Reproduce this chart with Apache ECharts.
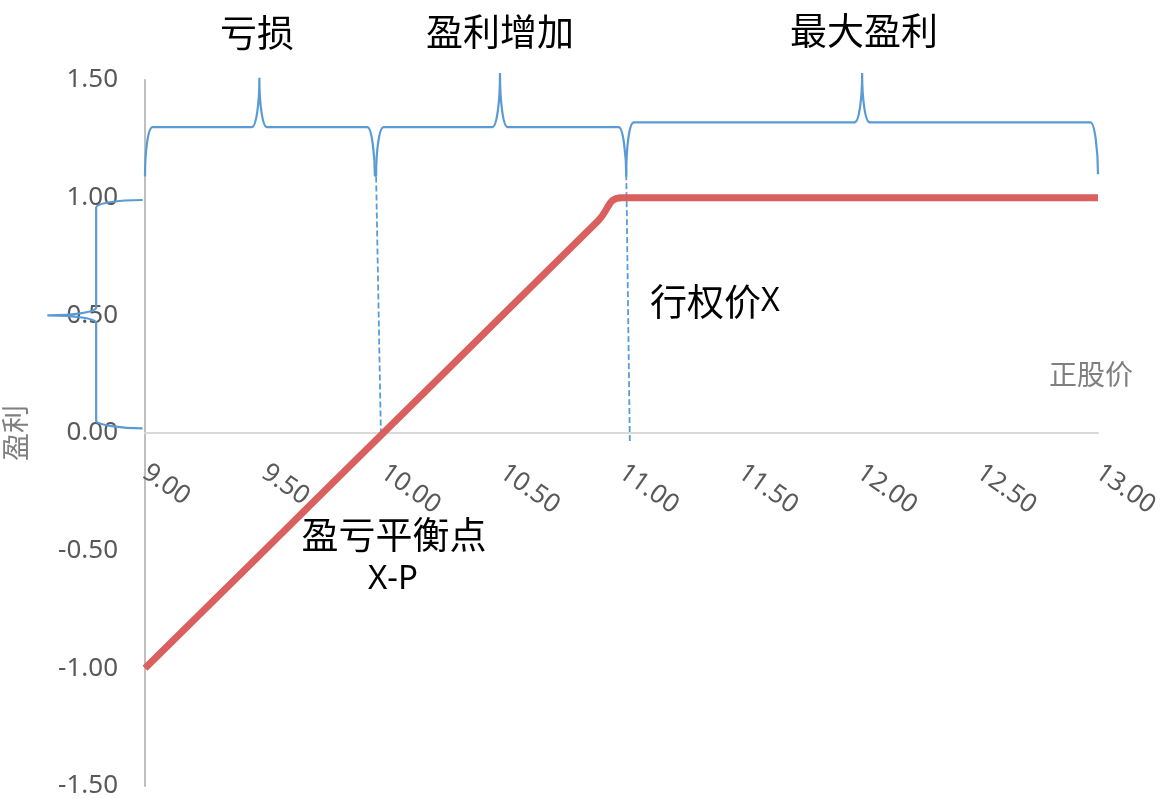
<!DOCTYPE html>
<html>
<head>
<meta charset="utf-8">
<script src="https://cdn.jsdelivr.net/npm/echarts@6/dist/echarts.min.js"></script>
<style>
  html, body { margin: 0; padding: 0; background: #fff; }
  #chart { width: 1162px; height: 799px; }
</style>
</head>
<body>
<div id="chart"></div>
<script>
// Profit against underlying price: rises 1:1 until the strike, flat afterwards
const stockPrice = [9, 9.5, 10, 10.5, 10.9, 11, 11.1, 11.5, 12, 12.5, 13];
const profit     = [-1, -0.5, 0, 0.5, 0.9, 1, 1, 1, 1, 1, 1];

// Axis ranges and tick steps
const xRange = [9, 13];
const xStep = 0.5;
const yRange = [-1.5, 1.5];
const yStep = 0.5;

// Price zones marked by braces above the curve
const zoneNames = ['亏损', '盈利增加', '最大盈利'];
const zoneFrom  = [9.0, 9.97, 11.02];
const zoneTo    = [9.965, 11.02, 13.0];
const zoneMid   = [9.48, 10.49, 12.01];
const zoneFoot  = [1.09, 1.09, 1.10];
const zoneBar   = [1.30, 1.30, 1.32];
const zonePeak  = [1.51, 1.53, 1.53];

// Brace along the profit axis covering 0 .. 1 (from, to, mid, foot, bar, peak)
const profitBrace = [0.02, 0.99, 0.5, 8.99, 8.795, 8.59];

// Dashed guides at the break-even point and the strike
const breakEvenGuide = [[9.97, 1.09], [9.99, 0]];
const strikeGuide    = [[11.02, 1.10], [11.035, -0.04]];

const BLUE = '#5b9bd5';
const RED = '#d9605e';
const TICK_GRAY = '#595959';
const NAME_GRAY = '#7f7f7f';
const CJK = "'Noto Sans CJK SC', sans-serif";
const LATIN = "'Noto Sans', 'Noto Sans CJK SC', sans-serif";

// Plot box (pixels) so the price axis can sit on the zero line
const GRID = { left: 145, right: 64, top: 80, bottom: 13 };
const plotHeight = 799 - GRID.top - GRID.bottom;
const zeroOffset = plotHeight * (0 - yRange[0]) / (yRange[1] - yRange[0]);

const braceItems = zoneFrom.map((f, i) =>
  [f, zoneTo[i], zoneMid[i], zoneFoot[i], zoneBar[i], zonePeak[i], 0]);
braceItems.push(profitBrace.concat([1]));

function renderBrace(params, api) {
  const from = api.value(0), to = api.value(1), mid = api.value(2);
  const foot = api.value(3), bar = api.value(4), peak = api.value(5);
  const vertical = api.value(6) === 1;
  let ua, ub, ut, vF, vB, vP, map;
  if (!vertical) {
    ua = api.coord([from, foot])[0];
    ub = api.coord([to, foot])[0];
    ut = api.coord([mid, bar])[0];
    vF = api.coord([mid, foot])[1];
    vB = api.coord([mid, bar])[1];
    vP = api.coord([mid, peak])[1];
    map = (u, v) => u.toFixed(2) + ' ' + v.toFixed(2);
  } else {
    ua = api.coord([foot, to])[1];
    ub = api.coord([foot, from])[1];
    ut = api.coord([foot, mid])[1];
    vF = api.coord([foot, mid])[0];
    vB = api.coord([bar, mid])[0];
    vP = api.coord([peak, mid])[0];
    map = (u, v) => v.toFixed(2) + ' ' + u.toFixed(2);
  }
  const r = 7.5, k = 0.5523;
  const d = [
    'M', map(ua, vF),
    'C', map(ua, vF + (vB - vF) * k), map(ua + r * (1 - k), vB), map(ua + r, vB),
    'L', map(ut - r, vB),
    'C', map(ut - r + r * k, vB), map(ut, vP + (vB - vP) * k), map(ut, vP),
    'C', map(ut, vP + (vB - vP) * k), map(ut + r - r * k, vB), map(ut + r, vB),
    'L', map(ub - r, vB),
    'C', map(ub - r + r * k, vB), map(ub, vB + (vF - vB) * k), map(ub, vF)
  ].join(' ');
  return {
    type: 'path',
    shape: { pathData: d },
    style: { fill: 'none', stroke: BLUE, lineWidth: 2.2 }
  };
}

const chart = echarts.init(document.getElementById('chart'), null, { renderer: 'canvas' });

const fmt2 = v => v.toFixed(2);

chart.setOption({
  animation: false,
  backgroundColor: '#ffffff',
  grid: {
    left: GRID.left, right: GRID.right, top: GRID.top, bottom: GRID.bottom,
    containLabel: false,
    outerBoundsMode: 'none'
  },
  xAxis: {
    type: 'value',
    min: xRange[0],
    max: xRange[1],
    interval: xStep,
    position: 'bottom',
    offset: -zeroOffset,
    axisLine: { show: true, onZero: false, lineStyle: { color: '#d9d9d9', width: 2 } },
    axisTick: { show: false },
    splitLine: { show: false },
    axisLabel: {
      rotate: -35,
      margin: 37,
      formatter: fmt2,
      color: TICK_GRAY,
      fontSize: 26,
      fontFamily: LATIN,
      showMinLabel: true,
      showMaxLabel: true,
      hideOverlap: false
    }
  },
  yAxis: {
    type: 'value',
    min: yRange[0],
    max: yRange[1],
    interval: yStep,
    name: '盈利',
    nameLocation: 'middle',
    nameGap: 116,
    nameRotate: 90,
    nameTextStyle: { fontSize: 28, color: NAME_GRAY, fontFamily: CJK },
    axisLine: { show: true, onZero: false, lineStyle: { color: '#bfbfbf', width: 2 } },
    axisTick: { show: false },
    splitLine: { show: false },
    axisLabel: {
      margin: 27,
      formatter: fmt2,
      color: TICK_GRAY,
      fontSize: 26,
      fontFamily: LATIN
    }
  },
  series: [
    {
      name: '盈利',
      type: 'line',
      data: stockPrice.map((x, i) => [x, profit[i]]),
      smooth: 0.5,
      showSymbol: false,
      symbol: 'none',
      lineStyle: { color: RED, width: 7 },
      z: 5
    },
    {
      name: '盈亏平衡点',
      type: 'line',
      data: breakEvenGuide,
      symbol: 'none',
      lineStyle: { color: BLUE, width: 1.8, type: [6, 3] },
      z: 4
    },
    {
      name: '行权价X',
      type: 'line',
      data: strikeGuide,
      symbol: 'none',
      lineStyle: { color: BLUE, width: 1.8, type: [6, 3] },
      z: 4
    },
    {
      name: '区间',
      type: 'custom',
      renderItem: renderBrace,
      data: braceItems,
      clip: false,
      silent: true,
      z: 6
    }
  ],
  graphic: [
    { type: 'text', x: 257, y: 33, style: { text: zoneNames[0], align: 'center', verticalAlign: 'middle', fontSize: 37, fontFamily: CJK, fill: '#000' } },
    { type: 'text', x: 500, y: 32, style: { text: zoneNames[1], align: 'center', verticalAlign: 'middle', fontSize: 37, fontFamily: CJK, fill: '#000' } },
    { type: 'text', x: 864, y: 31, style: { text: zoneNames[2], align: 'center', verticalAlign: 'middle', fontSize: 37, fontFamily: CJK, fill: '#000' } },
    {
      type: 'text', x: 650, y: 302,
      style: {
        text: '{c|行权价}{l|X}',
        align: 'left', verticalAlign: 'middle',
        rich: {
          c: { fontSize: 37, fontFamily: CJK, fill: '#000' },
          l: { fontSize: 32, fontFamily: LATIN, fill: '#000' }
        }
      }
    },
    { type: 'text', x: 394, y: 535, style: { text: '盈亏平衡点', align: 'center', verticalAlign: 'middle', fontSize: 37, fontFamily: CJK, fill: '#000' } },
    { type: 'text', x: 393, y: 580, style: { text: 'X-P', align: 'center', verticalAlign: 'middle', fontSize: 33, fontFamily: LATIN, fill: '#000' } },
    { type: 'text', x: 1091, y: 374, style: { text: '正股价', align: 'center', verticalAlign: 'middle', fontSize: 28, fontFamily: CJK, fill: NAME_GRAY } }
  ]
});
</script>
</body>
</html>
